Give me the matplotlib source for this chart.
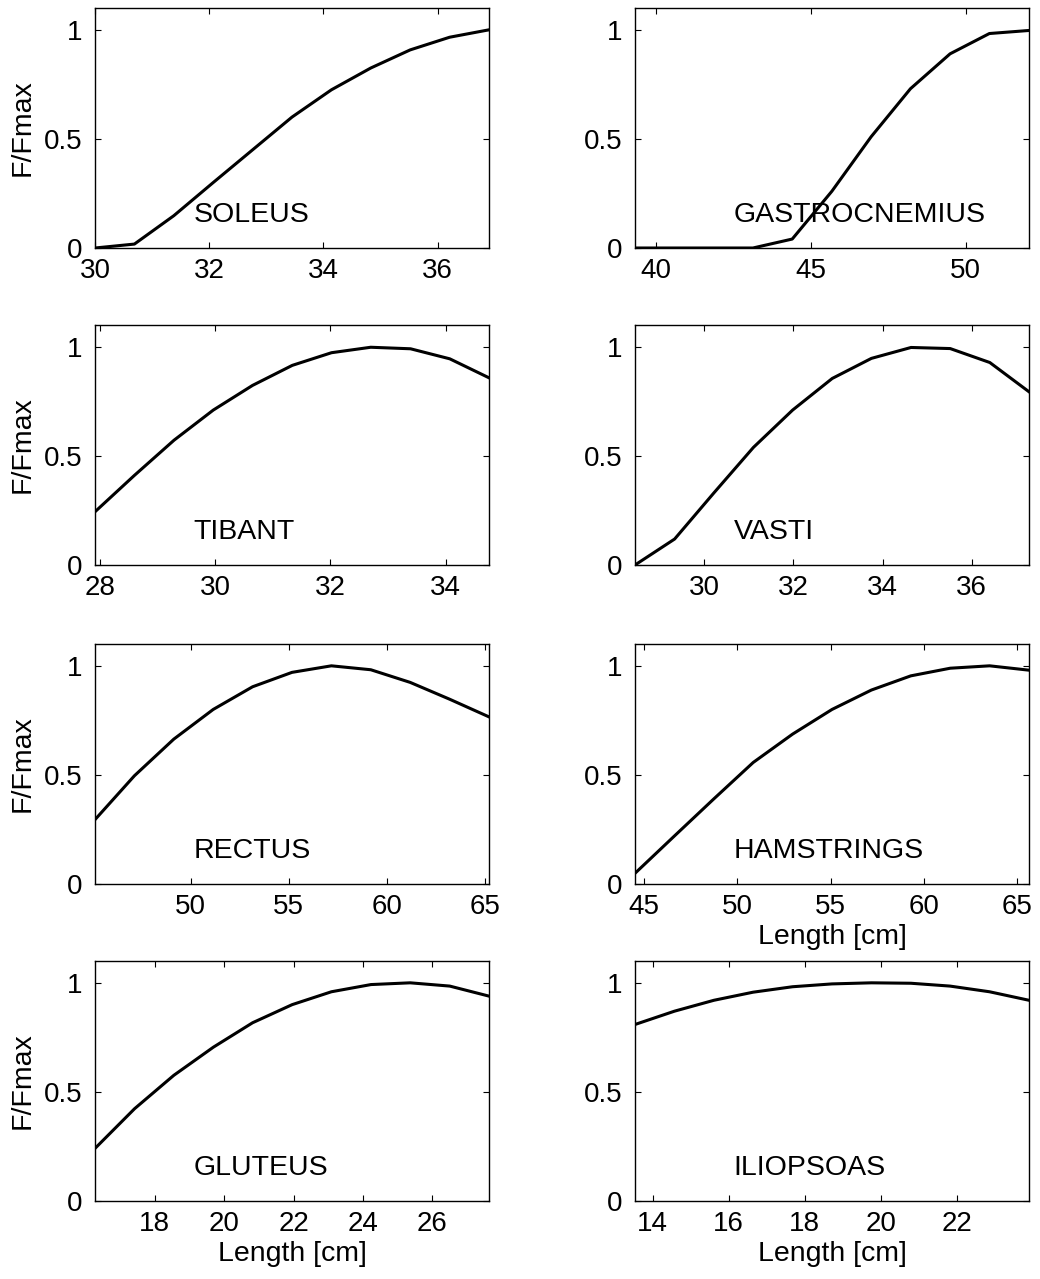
# -*- coding: utf-8 -*-
"""
Normalised force-length curves of eight leg muscles (4x2 panel figure)
"""

import matplotlib
matplotlib.use("Agg")
import matplotlib.pyplot as plt
from matplotlib.transforms import blended_transform_factory

plt.rcParams["font.family"] = ["Liberation Sans", "DejaVu Sans"]
plt.rcParams["font.size"] = 20

# Data
muscles = ["SOLEUS", "GASTROCNEMIUS", "TIBANT", "VASTI",
           "RECTUS", "HAMSTRINGS", "GLUTEUS", "ILIOPSOAS"]

soleus_x = [30.0, 30.69, 31.38, 32.07, 32.76, 33.45, 34.14, 34.83, 35.52, 36.21, 36.9]
soleus_y = [0.0, 0.018, 0.148, 0.30, 0.45, 0.60, 0.725, 0.825, 0.908, 0.966, 1.0]

gastro_x = [39.32, 40.59, 41.86, 43.13, 44.4, 45.68, 46.95, 48.22, 49.5, 50.77, 52.05]
gastro_y = [0.0, 0.0, 0.0, 0.0, 0.041, 0.26, 0.51, 0.73, 0.89, 0.983, 0.997]

tibant_x = [27.92, 28.6, 29.29, 29.97, 30.65, 31.34, 32.02, 32.7, 33.39, 34.07, 34.75]
tibant_y = [0.244, 0.41, 0.572, 0.71, 0.823, 0.915, 0.973, 0.998, 0.991, 0.945, 0.858]

vasti_x = [28.44, 29.33, 30.21, 31.1, 31.98, 32.87, 33.75, 34.64, 35.52, 36.41, 37.29]
vasti_y = [0.0, 0.119, 0.33, 0.539, 0.71, 0.855, 0.947, 0.997, 0.992, 0.928, 0.794]

rectus_x = [45.12, 47.13, 49.14, 51.15, 53.16, 55.17, 57.18, 59.19, 61.2, 63.21, 65.22]
rectus_y = [0.295, 0.496, 0.664, 0.80, 0.904, 0.97, 1.0, 0.982, 0.924, 0.847, 0.766]

hams_x = [44.52, 46.63, 48.74, 50.85, 52.96, 55.07, 57.18, 59.29, 61.4, 63.51, 65.62]
hams_y = [0.049, 0.22, 0.39, 0.557, 0.687, 0.80, 0.889, 0.954, 0.989, 1.0, 0.98]

glut_x = [16.28, 17.42, 18.55, 19.69, 20.82, 21.96, 23.09, 24.23, 25.36, 26.5, 27.63]
glut_y = [0.241, 0.423, 0.576, 0.705, 0.817, 0.90, 0.959, 0.992, 1.0, 0.985, 0.939]

ilio_x = [13.53, 14.57, 15.61, 16.64, 17.68, 18.72, 19.76, 20.8, 21.83, 22.87, 23.91]
ilio_y = [0.809, 0.87, 0.92, 0.957, 0.982, 0.995, 1.0, 0.998, 0.985, 0.959, 0.92]

xs = [soleus_x, gastro_x, tibant_x, vasti_x, rectus_x, hams_x, glut_x, ilio_x]
ys = [soleus_y, gastro_y, tibant_y, vasti_y, rectus_y, hams_y, glut_y, ilio_y]

xticks = [[30, 32, 34, 36], [40, 45, 50],
          [28, 30, 32, 34], [30, 32, 34, 36],
          [50, 55, 60, 65], [45, 50, 55, 60, 65],
          [18, 20, 22, 24, 26], [14, 16, 18, 20, 22]]

yticks = [0, 0.5, 1]
ytick_labels = ["0", "0.5", "1"]
xlabel_panels = ["HAMSTRINGS", "GLUTEUS", "ILIOPSOAS"]


def main():

    W, H = 1040, 1279
    fig = plt.figure(figsize=(W / 100, H / 100), dpi=100)

    # axes boxes in pixels (left, top) from the reference
    lefts = [95, 635]
    tops = [8, 325, 644, 961]
    aw, ah = 394, 240

    for i, name in enumerate(muscles):
        row, col = divmod(i, 2)
        l = lefts[col] / W
        b = 1 - (tops[row] + ah) / H
        ax = fig.add_axes([l, b, aw / W, ah / H])

        ax.plot(xs[i], ys[i], color="black", linewidth=2.2)
        ax.set_xlim(xs[i][0], xs[i][-1])
        ax.set_ylim(0, 1.1)

        ax.set_xticks(xticks[i])
        ax.set_xticklabels([str(t) for t in xticks[i]])
        ax.set_yticks(yticks)
        ax.set_yticklabels(ytick_labels)
        ax.tick_params(direction="in", top=True, right=True, length=4,
                       width=0.8, labelsize=20)
        ax.tick_params(axis="x", pad=7)
        ax.tick_params(axis="y", pad=9)
        for sp in ax.spines.values():
            sp.set_linewidth(1.0)

        trans = blended_transform_factory(ax.transAxes, ax.transData)
        ax.text(0.25, 0.15, name, transform=trans, ha="left", va="center",
                fontsize=20.5)

        if col == 0:
            ax.set_ylabel("F/Fmax", fontsize=20.5)
            ax.yaxis.set_label_coords(-0.15, 0.5)
        if name in xlabel_panels:
            ax.set_xlabel("Length [cm]", fontsize=20.5)
            ax.xaxis.set_label_coords(0.5, -0.165)

    fig.savefig("out.png", dpi=100)
    return


if __name__ == "__main__":

    main()
